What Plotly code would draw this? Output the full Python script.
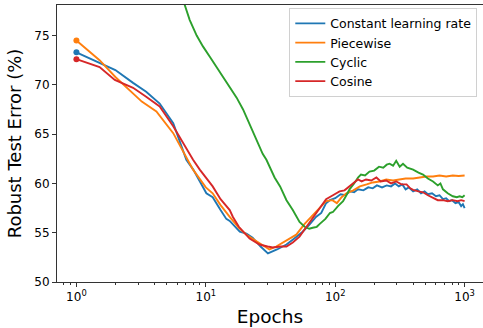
import plotly.graph_objects as go

# ---------------- data ----------------
const_epochs = [1, 2, 2.74, 3.46, 4.4, 5.6, 7.07, 8, 10.1, 11.3, 13, 14.4, 15.3, 18.3, 20.6, 23, 26.5, 30.2,
                35.5, 42, 48, 56, 63, 71, 78, 85, 91, 100, 110, 120, 130, 140, 150, 165, 180, 195, 210, 230,
                250, 270, 290, 310, 330, 350, 370, 400, 430, 460, 490, 520, 560, 600, 640, 680, 720, 760,
                800, 850, 900, 940, 970, 1000]
const_err = [73.3, 71.5, 70.2, 69.3, 68.1, 66.1, 62.4, 61.4, 59.0, 58.6, 57.3, 56.4, 56.2, 55.1, 54.9, 54.5, 53.6, 52.9,
             53.3, 53.8, 54.4, 55.1, 55.8, 56.6, 57.0, 58.0, 58.3, 58.5, 58.9, 58.8, 59.2, 59.1, 59.4, 59.3, 59.6,
             59.5, 59.8, 59.6, 59.8, 59.7, 60.0, 59.7, 59.9, 59.4, 59.6, 59.2, 59.4, 59.0, 59.2, 58.9, 59.0, 58.7,
             58.8, 58.4, 58.5, 58.2, 58.3, 58.0, 58.1, 57.7, 57.9, 57.5]

piece_epochs = [1, 1.51, 2, 3.2, 4.15, 5.6, 7.97, 10, 11.3, 13, 15.3, 18, 20.6, 23, 26.5, 31, 35, 39.5, 45, 50,
                58, 67, 76, 85, 95, 103, 112, 122, 138, 155, 175, 195, 220, 248, 280, 313, 350, 400, 450, 507,
                570, 640, 720, 810, 900, 1000]
piece_err = [74.5, 72.5, 70.8, 68.3, 67.3, 65.1, 61.4, 59.6, 59.0, 57.8, 56.6, 55.5, 54.8, 54.4, 53.8, 53.3, 53.6,
             54.0, 54.4, 54.8, 55.9, 56.8, 57.5, 58.2, 58.3, 58.0, 58.6, 59.0, 59.3, 59.7, 59.9, 60.1, 60.2, 60.4,
             60.3, 60.4, 60.5, 60.5, 60.6, 60.7, 60.7, 60.8, 60.7, 60.8, 60.75, 60.8]

cyclic_epochs = [6.3, 6.87, 7.5, 8.5, 9.5, 10.8, 12.1, 13.7, 15.3, 17.3, 19.4, 22, 24.6, 27.5, 29.4, 31, 34, 37.5,
                 42, 47, 50, 53, 58, 63, 67, 72, 76, 84, 91, 96, 105, 115, 122, 129, 140, 150, 158, 170, 184, 200,
                 218, 235, 250, 263, 280, 296, 315, 334, 360, 380, 400, 440, 477, 520, 570, 620, 650, 680, 740,
                 810, 870, 915, 960, 1000]
cyclic_err = [79.6, 78.1, 76.6, 75.0, 73.9, 72.8, 71.8, 70.8, 69.8, 68.7, 67.5, 65.9, 64.4, 63.0, 62.4, 61.7, 60.6,
              59.7, 58.3, 57.3, 56.6, 56.1, 55.6, 55.4, 55.5, 55.6, 55.9, 56.4, 57.0, 57.1, 57.7, 58.2, 58.8, 59.4,
              60.0, 60.6, 60.9, 60.8, 61.2, 61.3, 61.7, 61.6, 61.9, 62.0, 61.8, 62.3, 61.7, 62.0, 61.6, 61.5, 61.4,
              61.1, 60.9, 60.5, 60.2, 59.8, 60.0, 59.4, 59.0, 58.7, 58.6, 58.7, 58.6, 58.8]

cosine_epochs = [1, 1.51, 1.98, 2.74, 3.46, 4.4, 5.6, 7.97, 8.98, 11.3, 13, 15.3, 16.2, 18, 21.8, 26, 30, 33, 38,
                 42, 47, 53, 60, 67, 76, 85, 96, 108, 118, 129, 140, 150, 160, 173, 190, 208, 225, 248, 270, 296,
                 325, 356, 380, 400, 440, 477, 520, 570, 620, 680, 740, 810, 880, 940, 1000]
cosine_err = [72.6, 71.8, 70.5, 69.7, 68.8, 67.8, 65.8, 62.4, 61.4, 59.7, 58.4, 57.3, 56.6, 55.6, 54.4, 53.8, 53.6,
              53.5, 53.6, 53.6, 54.0, 54.6, 55.6, 56.5, 57.5, 58.4, 58.8, 59.2, 59.3, 59.7, 60.0, 60.4, 60.2, 60.4,
              60.3, 60.6, 60.2, 60.3, 60.0, 60.2, 59.9, 59.9, 59.5, 59.35, 59.2, 59.1, 58.8, 58.5, 58.3, 58.3, 58.2,
              58.3, 58.2, 58.3, 58.2]

series_names = ["Constant learning rate", "Piecewise", "Cyclic", "Cosine"]
x_tick_vals = [1, 10, 100, 1000]
x_tick_text = ["10<sup>0</sup>", "10<sup>1</sup>", "10<sup>2</sup>", "10<sup>3</sup>"]
y_tick_vals = [50, 55, 60, 65, 70, 75]
x_minor_vals = [0.8, 0.9] + [m * 10 ** d for d in range(3) for m in range(2, 10)]

# ---------------- figure ----------------
colors = ["#1f77b4", "#ff7f0e", "#2ca02c", "#d62728"]
data = [(const_epochs, const_err), (piece_epochs, piece_err),
        (cyclic_epochs, cyclic_err), (cosine_epochs, cosine_err)]

fig = go.Figure()
for name, (xs, ys), c in zip(series_names, data, colors):
    fig.add_trace(go.Scatter(x=xs, y=ys, mode="lines", name=name,
                             line=dict(color=c, width=1.9)))
for name, (xs, ys), c in zip(series_names, data, colors):
    if xs[0] == 1:
        fig.add_trace(go.Scatter(x=[xs[0]], y=[ys[0]], mode="markers", showlegend=False,
                                 marker=dict(color=c, size=6), cliponaxis=False))

font_family = "DejaVu Sans"
fig.update_layout(
    width=483, height=328,
    margin=dict(l=57, r=0, t=5, b=46),
    paper_bgcolor="white", plot_bgcolor="white",
    font=dict(family=font_family, color="#000", size=12),
    showlegend=True,
    legend=dict(x=0.9866, xanchor="right", y=0.99, yanchor="top",
                bgcolor="rgba(255,255,255,0.8)", bordercolor="#d0d0d0", borderwidth=1,
                font=dict(size=12.5, family=font_family), tracegroupgap=0, itemwidth=30),
)
fig.update_xaxes(
    type="log", range=[-0.15, 3.142],
    tickvals=x_tick_vals, ticktext=x_tick_text,
    ticks="outside", ticklen=4, tickwidth=1, tickcolor="#333",
    showline=True, linecolor="#333", linewidth=1, mirror=True,
    showgrid=False, zeroline=False,
    tickfont=dict(size=12),
    minor=dict(tickvals=x_minor_vals, ticks="outside", ticklen=2, tickwidth=0.8, tickcolor="#333", showgrid=False),
    title=dict(text="Epochs", font=dict(size=18.5), standoff=6),
    automargin=False,
)
fig.update_yaxes(
    range=[50, 78.1], tickvals=y_tick_vals,
    ticks="outside", ticklen=4, tickwidth=1, tickcolor="#333",
    showline=True, linecolor="#333", linewidth=1, mirror=False,
    showgrid=False, zeroline=False,
    tickfont=dict(size=12),
    title=dict(text="Robust Test Error (%)", font=dict(size=18), standoff=8),
    automargin=False,
)

fig.write_html("out.html")
